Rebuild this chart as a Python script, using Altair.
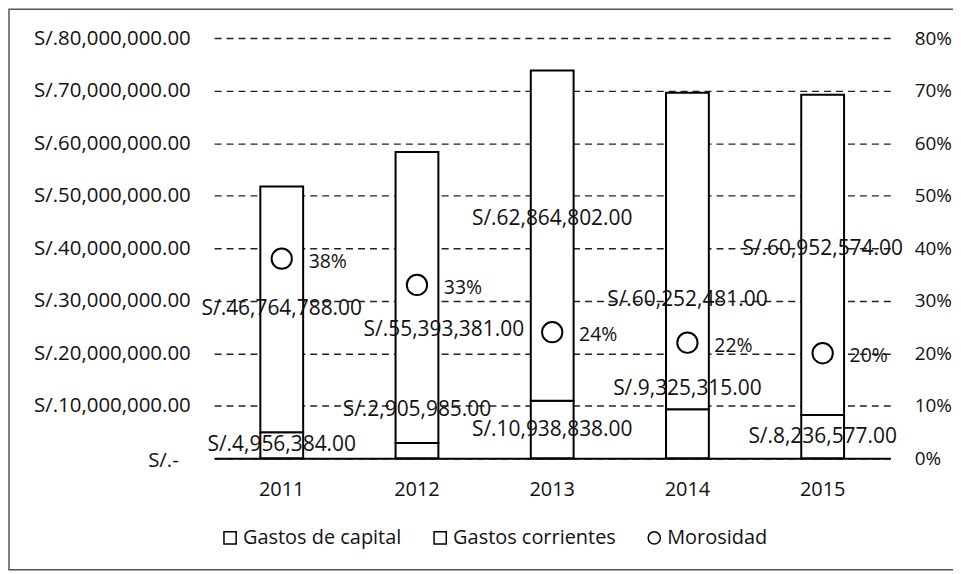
import altair as alt
import pandas as pd

# ---- data ----
years = ["2011", "2012", "2013", "2014", "2015"]
gastos_capital = [4956384.00, 2905985.00, 10938838.00, 9325315.00, 8236577.00]
gastos_corrientes = [46764788.00, 55393381.00, 62864802.00, 60252481.00, 60952574.00]
morosidad = [0.38, 0.33, 0.24, 0.22, 0.20]
series = ["Gastos de capital", "Gastos corrientes", "Morosidad"]

# ---- layout ----
W, H = 679, 422
YMAX = 80000000
HALF = W / len(years) / 2
# hand-moved label nudges (pixels, +x right, +y down), as in the original
cap_dx = [0, 0, 0, 0, 0]
cap_dy = [0, -41, 0, -45, 0]
cor_dx = [0, 27, 0, 0, 0]
cor_dy = [0, 33, -17, 49, -6]

FONT = "Open Sans"
INK = "#111111"

rows = []
for i, y in enumerate(years):
    rows.append({"year": y, "serie": series[0], "valor": gastos_capital[i], "ord": 0,
                 "dx": cap_dx[i] + HALF, "dy": cap_dy[i]})
    rows.append({"year": y, "serie": series[1], "valor": gastos_corrientes[i], "ord": 1,
                 "dx": cor_dx[i] + HALF, "dy": cor_dy[i]})
bars_df = pd.DataFrame(rows)
mor_df = pd.DataFrame({"year": years, "morosidad": morosidad, "serie": [series[2]] * len(years)})

x_enc = alt.X("year:N", title=None, sort=years,
              scale=alt.Scale(paddingInner=0, paddingOuter=0),
              axis=alt.Axis(labelAngle=0, ticks=False, domain=True, domainColor="black",
                            domainWidth=2, labelPadding=21, labelFontSize=20,
                            labelFont=FONT, labelColor=INK, grid=False))

base = alt.Chart(bars_df).transform_stack(
    stack="valor", groupby=["year"], as_=["v0", "v1"], sort=[alt.SortField("ord")]
).transform_calculate(
    lab_y=f"(datum.v0 + datum.v1) / 2 - datum.dy * {YMAX} / {H}",
    label="'S/.' + format(datum.valor, ',.2f')",
)

y_left = alt.Scale(domain=[0, YMAX])

bars = base.mark_bar(size=43, fill="white", stroke="black", strokeWidth=2).encode(
    x=x_enc,
    y=alt.Y("v0:Q", title=None, scale=y_left,
            axis=alt.Axis(values=list(range(0, YMAX + 1, 10000000)),
                          labelExpr="datum.value == 0 ? 'S/.-' : 'S/.' + format(datum.value, ',.2f')",
                          grid=True, gridDash=[7, 5], gridColor="#222222", gridWidth=1.4,
                          domain=False, ticks=False, labelFontSize=20.5,
                          labelFont=FONT, labelColor=INK,
                          labelPadding={"condition": {"test": "datum.value == 0", "value": 36},
                                        "value": 24},
                          labelOffset={"condition": {"test": "datum.value == 0", "value": 2},
                                       "value": 0})),
    y2="v1:Q",
)

amt_text = base.mark_text(fontSize=21, font=FONT, color=INK).encode(
    x=alt.X("year:N", sort=years),
    y=alt.Y("lab_y:Q", scale=y_left),
    text="label:N",
    xOffset=alt.XOffset("dx:Q", scale=None),
)

left = alt.layer(bars, amt_text)

y_right = alt.Scale(domain=[0, 0.8])
right_axis = alt.Axis(orient="right", values=[i / 10 for i in range(9)], format=".0%",
                      grid=False, domain=False, ticks=False, labelPadding=24,
                      labelFontSize=19, labelFont=FONT, labelColor=INK)

pts = alt.Chart(mor_df).mark_point(size=415, filled=False, color="black", strokeWidth=2,
                                   opacity=1).encode(
    x=alt.X("year:N", sort=years),
    y=alt.Y("morosidad:Q", title=None, scale=y_right, axis=right_axis),
    shape=alt.Shape("serie:N",
                    scale=alt.Scale(domain=series, range=["square", "square", "circle"]),
                    legend=alt.Legend(orient="none", legendX=6, legendY=492,
                                      direction="horizontal", title=None,
                                      labelFontSize=20, labelFont=FONT, labelColor=INK,
                                      labelLimit=400,
                                      symbolSize=150, symbolStrokeColor="black",
                                      symbolFillColor="white", symbolStrokeWidth=1.5,
                                      columnPadding=28, labelOffset=3)),
)

pct_text = alt.Chart(mor_df).mark_text(align="left", dx=27, dy=3, fontSize=19.5,
                                       font=FONT, color=INK).encode(
    x=alt.X("year:N", sort=years),
    y=alt.Y("morosidad:Q", title=None, scale=y_right, axis=right_axis),
    text=alt.Text("morosidad:Q", format=".0%"),
)

right = alt.layer(pts, pct_text)

frame = alt.Chart(pd.DataFrame({"k": [0]})).mark_rect(
    fill=None, stroke="#555555", strokeWidth=1.5
).encode(x=alt.value(-206), x2=alt.value(780), y=alt.value(-29), y2=alt.value(534))

chart = alt.layer(frame, left, right).resolve_scale(y="independent").properties(
    width=W, height=H,
    autosize=alt.AutoSizeParams(type="none"),
    padding={"left": 207, "top": 29, "right": 63, "bottom": 115},
    background="white",
).configure_view(stroke=None)

chart.save("out.html", embed_options={"renderer": "svg", "actions": False})
